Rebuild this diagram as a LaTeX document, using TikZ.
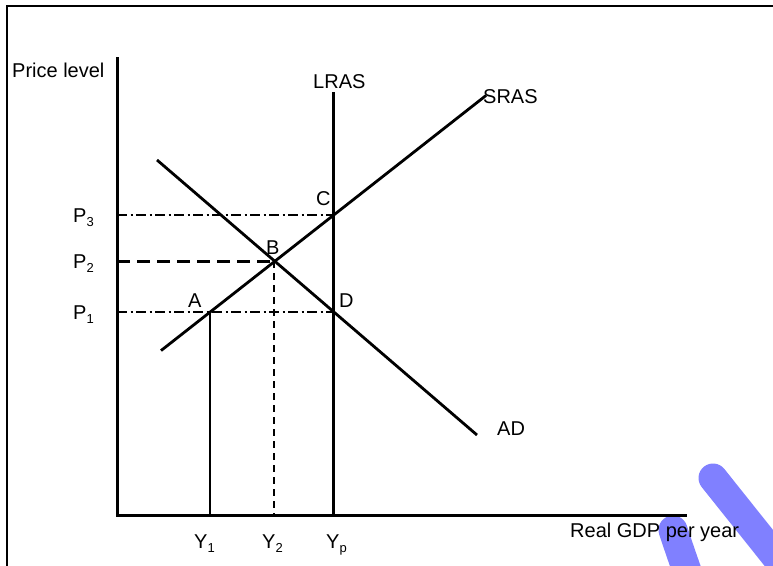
\documentclass[tikz,border=0pt]{standalone}
\usepackage{fontspec}
\setmainfont{Liberation Sans}
\begin{document}
\begin{tikzpicture}[x=1pt,y=-1pt,
  lbl/.style={anchor=base west,inner sep=0pt,font=\fontsize{20}{24}\selectfont},
  axisline/.style={line width=3pt},
  curve/.style={line width=2.8pt},
  dashdotline/.style={line width=1.4pt,dash pattern=on 10pt off 3.5pt on 2pt off 3.5pt},
  thickdash/.style={line width=2.6pt,dash pattern=on 13pt off 7pt},
  thindash/.style={line width=2pt,dash pattern=on 7pt off 5pt},
  pen/.style={line width=29pt,line cap=round,color=penblue}]
\definecolor{penblue}{RGB}{128,128,255}
\useasboundingbox (0,0) rectangle (773,565);
\clip (0,0) rectangle (773,565);
% pen strokes (behind everything)
\coordinate (pa1) at (713,478);
\coordinate (pa2) at (792,577);
\coordinate (pb1) at (673,530);
\coordinate (pb2) at (692,585);
\draw[pen] (pa1) -- (pa2);
\draw[pen] (pb1) .. controls (678,545) and (683,560) .. (pb2);
% frame
\coordinate (fbl) at (7,566);
\coordinate (ftl) at (7,6);
\coordinate (ftr) at (774,6);
\draw[line width=2.4pt] (fbl) -- (ftl) -- (ftr);
% key points
\coordinate (O) at (117,515);
\coordinate (ytop) at (117,57);
\coordinate (xend) at (687,515);
\coordinate (lrastop) at (333,92);
\coordinate (lrasbot) at (333,515);
\coordinate (ads) at (157,160);
\coordinate (ade) at (477,435);
\coordinate (srs) at (161,350.6);
\coordinate (sre) at (486,95.5);
\coordinate (A) at (210,312);
\coordinate (B) at (274.3,261.3);
\coordinate (C) at (333,215);
\coordinate (D) at (333,312);
\coordinate (p3) at (117,215);
\coordinate (p2) at (117,261.3);
\coordinate (p1) at (117,312);
\coordinate (y1) at (210,515);
\coordinate (y2) at (274.3,515);
% guide lines
\draw[dashdotline] (p3) -- (C);
\draw[dashdotline] (p1) -- (D);
\draw[thickdash] (p2) -- (B);
\draw[thindash] (B) -- (y2);
\draw[line width=1.4pt] (A) -- (y1);
% axes
\draw[axisline] (ytop) -- (O) -- (xend);
\draw[axisline] (lrastop) -- (lrasbot);
% curves
\draw[curve] (ads) -- (ade);
\draw[curve] (srs) -- (sre);
% labels
\node[lbl] (lprice) at (12,77) {Price level};
\node[lbl] (llras) at (313,88) {LRAS};
\node[lbl] (lsras) at (483,103) {SRAS};
\node[lbl] (lad) at (497,435) {AD};
\node[lbl] (lgdp) at (570,537) {Real GDP per year};
\node[lbl] (lA) at (188,307) {A};
\node[lbl] (lB) at (266,254) {B};
\node[lbl] (lC) at (316,205) {C};
\node[lbl] (lD) at (339,307) {D};
\node[lbl] (lp3) at (73,222) {P\raisebox{-4pt}{\fontsize{13}{13}\selectfont 3}};
\node[lbl] (lp2) at (73,268) {P\raisebox{-4pt}{\fontsize{13}{13}\selectfont 2}};
\node[lbl] (lp1) at (73,319) {P\raisebox{-4pt}{\fontsize{13}{13}\selectfont 1}};
\node[lbl] (ly1) at (194,548) {Y\raisebox{-4pt}{\fontsize{13}{13}\selectfont 1}};
\node[lbl] (ly2) at (262,548) {Y\raisebox{-4pt}{\fontsize{13}{13}\selectfont 2}};
\node[lbl] (lyp) at (326,548) {Y\raisebox{-4pt}{\fontsize{13}{13}\selectfont p}};
\end{tikzpicture}
\end{document}
